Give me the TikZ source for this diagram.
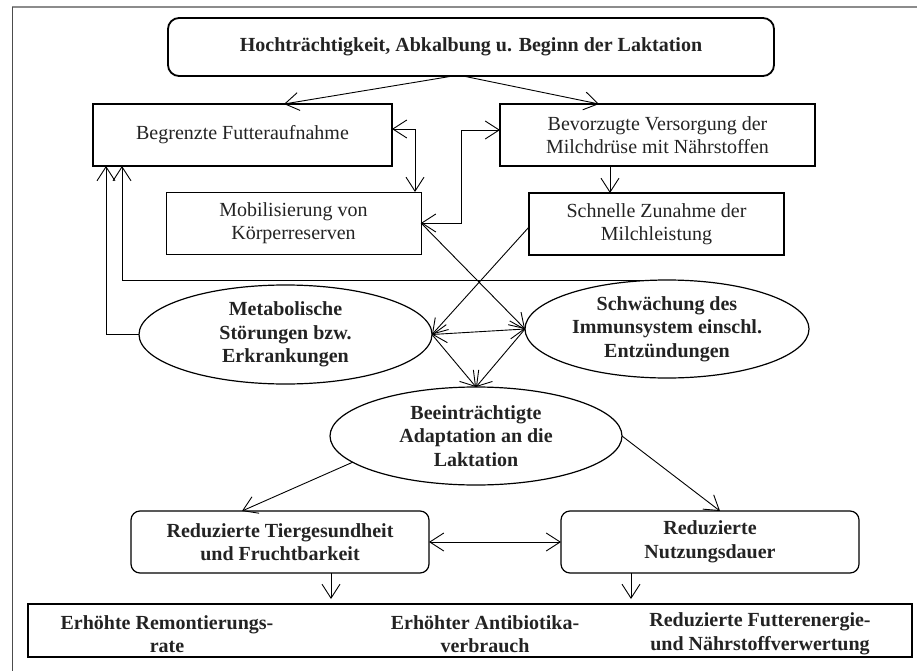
\documentclass[tikz,border=0pt]{standalone}
\usepackage{fontspec}
\setmainfont{Liberation Serif}
\usetikzlibrary{arrows.meta,shapes.geometric,calc}
\definecolor{txt}{RGB}{35,35,35}
\definecolor{frame}{RGB}{140,140,140}
\begin{document}
\begin{tikzpicture}[x=1pt,y=-1pt,
  >={Straight Barb[length=14pt,width=18pt]},
  every node/.style={font=\fontsize{20}{23.5}\selectfont, text=txt, align=center, inner sep=0pt, outer sep=0pt},
  box/.style={draw, rectangle, line width=1.1pt},
  rbox/.style={draw, rectangle, rounded corners=9pt, line width=1.2pt},
  ell/.style={draw, ellipse, line width=1.2pt},
  bold/.style={font=\fontsize{20}{23.5}\selectfont\bfseries},
  conn/.style={line width=0.9pt}
]
\useasboundingbox (0,0) rectangle (917,671);
% frame
\draw[frame, line width=2.5pt] (12,7) -- (917,7);
\draw[black!70, line width=1pt] (12,7) -- (12,671);

% nodes
\node[rbox, bold, line width=1.8pt, rounded corners=11pt, minimum width=606pt, minimum height=58pt] (top) at (471,47) {Hochträchtigkeit, Abkalbung u. Beginn der Laktation};
\node[box, line width=1.5pt, minimum width=299pt, minimum height=62pt] (beg) at (242.5,135) {Begrenzte Futteraufnahme};
\node[box, line width=1.1pt, minimum width=315pt, minimum height=62pt] (bev) at (657.5,135) {Bevorzugte Versorgung der\\Milchdrüse mit Nährstoffen};
\node[box, line width=0.9pt, minimum width=255pt, minimum height=62pt] (mob) at (293.5,223) {Mobilisierung von\\Körperreserven};
\node[box, line width=1.8pt, minimum width=255pt, minimum height=62pt] (sn) at (656.5,224) {Schnelle Zunahme der\\Milchleistung};
\node[ell, bold, minimum width=293pt, minimum height=99pt] (met) at (285.5,334.5) {Metabolische\\Störungen bzw.\\Erkrankungen};
\node[ell, bold, minimum width=284pt, minimum height=98pt] (imm) at (667,329) {Schwächung des\\Immunsystem einschl.\\Entzündungen};
\node[ell, bold, minimum width=292pt, minimum height=98pt] (bee) at (476,436) {Beeinträchtigte\\Adaptation an die\\Laktation};
\node[rbox, bold, minimum width=298pt, minimum height=62pt] (tg) at (280,542) {Reduzierte Tiergesundheit\\und Fruchtbarkeit};
\node[rbox, bold, minimum width=298pt, minimum height=62pt] (nd) at (710,542) {Reduzierte\\Nutzungsdauer};
\node[box, line width=1.4pt, minimum width=884pt, minimum height=53pt] (bot) at (470,630.5) {};
\node[bold] (r1) at (167,634) {Erhöhte Remontierungs-\\rate};
\node[bold] (r2) at (485,634) {Erhöhter Antibiotika-\\verbrauch};
\node[bold] (r3) at (760,634) {Reduzierte Futterenergie-\\und Nährstoffverwertung};

% connectors
\draw[conn,->] ([xshift=-18pt]top.south) -- ([xshift=41.5pt]beg.north);
\draw[conn,->] ([xshift=-8pt]top.south) -- ([xshift=-58.5pt]bev.north);
\draw[conn,<->] ([yshift=6pt]beg.east) -| ([xshift=121.5pt]mob.north);
\draw[conn,<->] (mob.east) -- ++(40,0) |- ([yshift=5pt]bev.west);
\draw[conn,->] ([xshift=-47.5pt]bev.south) -- ([xshift=-47.5pt]bev.south |- sn.north);
\draw[conn,->] (mob.east) -- (imm.west);
\draw[conn,->] ([yshift=-3pt]sn.west) -- (met.east);
\draw[conn,<->] (met.east) -- (imm.west);
\draw[conn,->] (met.east) -- (bee.north);
\draw[conn,->] (imm.west) -- (bee.north);
\draw[conn,->] (met.west) -| ([xshift=-136.5pt]beg.south);
\draw[conn,->] ([xshift=-10pt]imm.north) -| ([xshift=-120.5pt]beg.south);
\draw[conn,->] (bee.192) -- ([xshift=-38pt]tg.north);
\draw[conn,->] (bee.east) -- ([xshift=10pt]nd.north);
\draw[conn,<->] (tg.east) -- (nd.west);
\draw[conn,->,shorten >=5pt] ([xshift=51pt]tg.south) -- ([xshift=51pt]tg.south |- bot.north);
\draw[conn,->,shorten >=5pt] ([xshift=-79pt]nd.south) -- ([xshift=-79pt]nd.south |- bot.north);
\end{tikzpicture}
\end{document}
